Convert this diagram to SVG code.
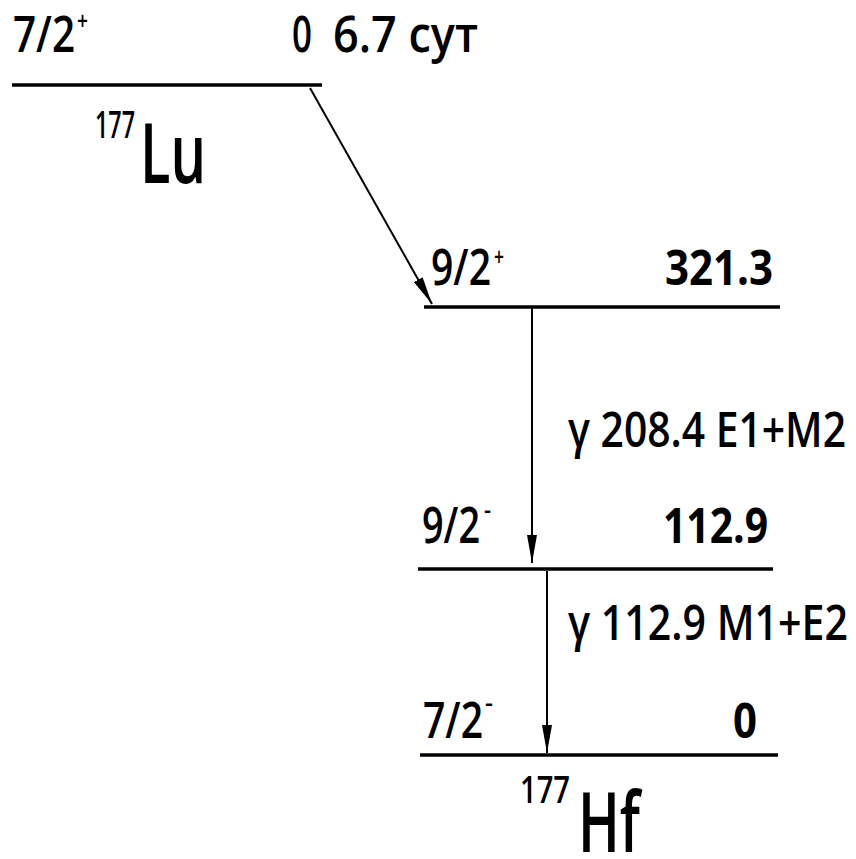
<svg xmlns="http://www.w3.org/2000/svg" width="856" height="859" viewBox="0 0 856 859">
  <style>
    text { font-family: "Open Sans", "Noto Sans", sans-serif; fill: #000; font-weight: 600; }
    .lbl { font-size: 50px; }
    .en { font-size: 48px; font-weight: bold; }
    .g { font-size: 48px; }
    .sup { font-size: 26px; }
    .iso { font-size: 38px; }
    .el { font-size: 84px; }
    .lvl { stroke: #000; stroke-width: 3.5; fill: none; }
    .tr { stroke: #000; stroke-width: 2; fill: none; }
  </style>
  <defs>
    <marker id="head" viewBox="0 0 28 10" refX="28" refY="5" markerWidth="28" markerHeight="10" markerUnits="userSpaceOnUse" orient="auto">
      <path d="M0,0 L28,5 L0,10 Z" fill="#000"/>
    </marker>
  </defs>

  <!-- 177Lu ground state -->
  <g id="lu-ground">
    <line class="lvl" x1="12" y1="85" x2="322" y2="85"/>
    <text class="lbl" x="13" y="52" textLength="62" lengthAdjust="spacingAndGlyphs">7/2</text>
    <text class="sup" x="77" y="30" textLength="11" lengthAdjust="spacingAndGlyphs">+</text>
    <text class="lbl" x="292" y="52" textLength="20" lengthAdjust="spacingAndGlyphs">0</text>
    <text class="lbl" x="333" y="52" textLength="145" lengthAdjust="spacingAndGlyphs">6.7 сут</text>
    <text class="iso" x="95" y="138" textLength="40" lengthAdjust="spacingAndGlyphs">177</text>
    <text class="el" x="140" y="183" textLength="66" lengthAdjust="spacingAndGlyphs">Lu</text>
  </g>

  <!-- 177Hf level 321.3 -->
  <g id="hf-321">
    <line class="lvl" x1="424" y1="307" x2="780" y2="307"/>
    <text class="lbl" x="431" y="285" textLength="60" lengthAdjust="spacingAndGlyphs">9/2</text>
    <text class="sup" x="494" y="266" textLength="10" lengthAdjust="spacingAndGlyphs">+</text>
    <text class="en" x="665" y="285" textLength="108" lengthAdjust="spacingAndGlyphs">321.3</text>
  </g>

  <!-- 177Hf level 112.9 -->
  <g id="hf-112">
    <line class="lvl" x1="418" y1="569" x2="773" y2="569"/>
    <text class="lbl" x="422" y="543" textLength="58" lengthAdjust="spacingAndGlyphs">9/2</text>
    <text class="sup" x="484" y="519" textLength="7" lengthAdjust="spacingAndGlyphs">-</text>
    <text class="en" x="663" y="543" textLength="105" lengthAdjust="spacingAndGlyphs">112.9</text>
  </g>

  <!-- 177Hf ground state -->
  <g id="hf-ground">
    <line class="lvl" x1="420" y1="755" x2="778" y2="755" stroke-width="4.5"/>
    <text class="lbl" x="423" y="738" textLength="60" lengthAdjust="spacingAndGlyphs">7/2</text>
    <text class="sup" x="485" y="712" textLength="8" lengthAdjust="spacingAndGlyphs">-</text>
    <text class="en" x="733" y="738" textLength="24" lengthAdjust="spacingAndGlyphs">0</text>
    <text class="iso" x="520" y="803" textLength="50" lengthAdjust="spacingAndGlyphs">177</text>
    <text class="el" x="578" y="852" textLength="62" lengthAdjust="spacingAndGlyphs" font-size="88">Hf</text>
  </g>

  <!-- transitions -->
  <g id="connectors">
    <line class="tr" x1="310" y1="88" x2="432" y2="304" marker-end="url(#head)"/>
    <line class="tr" x1="532" y1="308" x2="532" y2="563" marker-end="url(#head)"/>
    <text class="g" x="568" y="447" textLength="278" lengthAdjust="spacingAndGlyphs">γ 208.4 E1+M2</text>
    <line class="tr" x1="547" y1="571" x2="547" y2="753" marker-end="url(#head)"/>
    <text class="g" x="568" y="640" textLength="280" lengthAdjust="spacingAndGlyphs">γ 112.9 M1+E2</text>
  </g>
</svg>
